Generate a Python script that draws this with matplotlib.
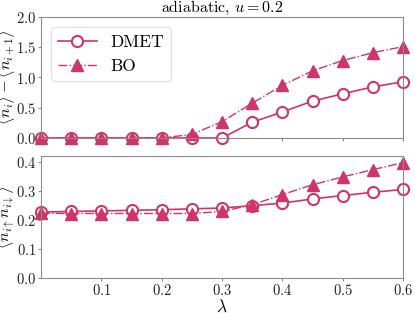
import matplotlib
matplotlib.use('Agg')
import matplotlib.pyplot as plt

plt.rcParams['font.family'] = 'serif'
plt.rcParams['font.serif'] = ['cmr10']
plt.rcParams['mathtext.fontset'] = 'cm'
plt.rcParams['axes.formatter.use_mathtext'] = True
plt.rcParams['axes.unicode_minus'] = False

# data
lam = [0.0, 0.05, 0.1, 0.15, 0.2, 0.25, 0.3, 0.35, 0.4, 0.45, 0.5, 0.55, 0.6]
dmet_cdw = [0.0, 0.0, 0.0, 0.0, 0.0, 0.0, 0.0, 0.26, 0.43, 0.61, 0.73, 0.845, 0.93]
bo_cdw = [0.0, 0.0, 0.0, 0.0, 0.0, 0.06, 0.27, 0.575, 0.87, 1.11, 1.28, 1.41, 1.51]
dmet_docc = [0.227, 0.229, 0.231, 0.233, 0.235, 0.238, 0.241, 0.249, 0.258, 0.272, 0.284, 0.295, 0.305]
bo_docc = [0.223, 0.222, 0.222, 0.222, 0.222, 0.222, 0.229, 0.252, 0.287, 0.321, 0.348, 0.373, 0.397]

COLOR = '#cf3566'
SPINE = '#8c8c8c'

fig = plt.figure(figsize=(4.15, 3.13), dpi=100)
ax1 = fig.add_axes([41/415, 1 - 138/313, 362/415, 121/313])
ax2 = fig.add_axes([41/415, 1 - 278/313, 362/415, 122/313])

ax1.plot(lam, dmet_cdw, '-o', color=COLOR, mfc='white', mew=1.5, ms=8, lw=1.2, label='DMET', clip_on=False)
ax1.plot(lam, bo_cdw, '-.^', color=COLOR, ms=8, lw=1.0, label='BO', clip_on=False)
ax2.plot(lam, dmet_docc, '-o', color=COLOR, mfc='white', mew=1.5, ms=8, lw=1.2, clip_on=False)
ax2.plot(lam, bo_docc, '-.^', color=COLOR, ms=8, lw=1.0, clip_on=False)

for ax in (ax1, ax2):
    ax.set_xlim(0, 0.6)
    for s in ax.spines.values():
        s.set_color(SPINE)
    ax.tick_params(colors=SPINE, labelcolor='#222222', labelsize=10.5, length=2, pad=1.5)

ax1.set_ylim(0, 2.0)
ax1.set_yticks([0.0, 0.5, 1.0, 1.5, 2.0])
ax1.set_xticks([0.1, 0.2, 0.3, 0.4, 0.5, 0.6])
ax1.set_xticklabels([])
ax1.set_ylabel(r'$\langle n_i\rangle - \langle n_{i+1}\rangle$', fontsize=11.5)
ax1.yaxis.set_label_coords(-0.066, 0.5)
ax1.set_title(r'adiabatic, $u = 0.2$', fontsize=11.5, pad=0.5)
leg = ax1.legend(loc='upper left', fontsize=12.5, framealpha=0.8, fancybox=True,
                 borderaxespad=0.6, handlelength=2.2)
leg.get_frame().set_edgecolor('#dddddd')

ax2.set_ylim(0, 0.42)
ax2.set_yticks([0.0, 0.1, 0.2, 0.3, 0.4])
ax2.set_xticks([0.1, 0.2, 0.3, 0.4, 0.5, 0.6])
ax2.set_ylabel(r'$\langle n_{i\uparrow} n_{i\downarrow}\rangle$', fontsize=11.5)
ax2.yaxis.set_label_coords(-0.066, 0.5)
ax2.set_xlabel(r'$\lambda$', fontsize=12.5, labelpad=0)

fig.savefig('out.png', dpi=100)
